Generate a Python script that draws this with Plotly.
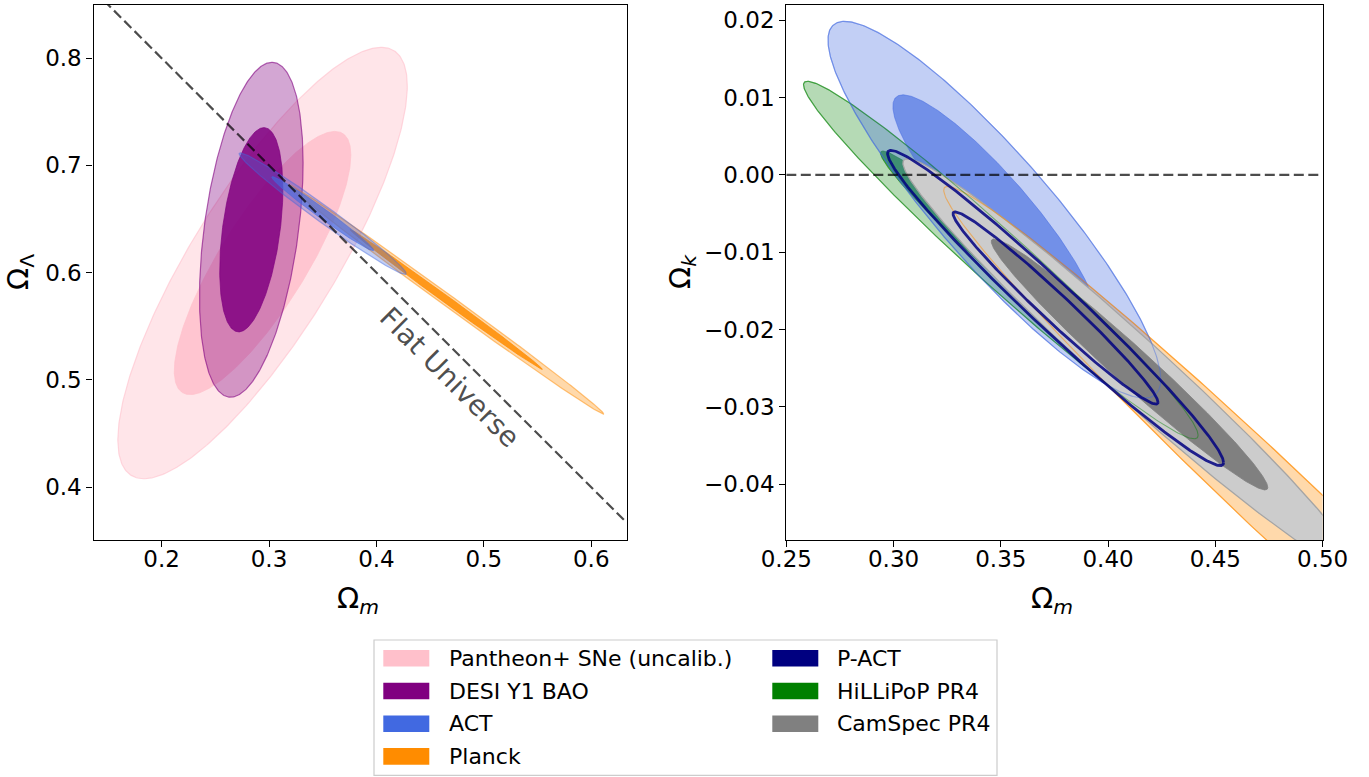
import numpy as np
import plotly.graph_objects as go

# ---------------- data (Gaussian contour parameters) -------------
# Left panel: Omega_m vs Omega_Lambda
left_names = ["Pantheon+ SNe (uncalib.)", "DESI Y1 BAO", "Planck", "ACT"]
left_cx = [0.294, 0.2835, 0.465, 0.350]
left_cy = [0.609, 0.640, 0.575, 0.655]
left_sx = [0.0542, 0.0194, 0.059, 0.0313]
left_sy = [0.0809, 0.0628, 0.043, 0.0228]
left_rho = [0.82, 0.40, -0.998, -0.986]

# Right panel: Omega_m vs Omega_k
right_names = ["Planck", "HiLLiPoP PR4", "CamSpec PR4", "ACT", "P-ACT"]
right_cx = [0.480, 0.350, 0.410, 0.347, 0.3755]
right_cy = [-0.0425, -0.011, -0.0245, -0.0045, -0.0172]
right_sx = [0.063, 0.037, 0.0425, 0.0312, 0.0315]
right_sy = [0.0165, 0.0093, 0.0107, 0.0098, 0.0082]
right_rho = [-0.988, -0.98, -0.98, -0.90, -0.98]

# contour levels (68% and 95% for 2 parameters)
levels = [np.sqrt(2.30), np.sqrt(6.18)]

# axes
left_xrange = [0.1366, 0.6333]
left_yrange = [0.3505, 0.8499]
right_xrange = [0.25, 0.50]
right_yrange = [-0.04724, 0.02203]
left_xticks = [0.2, 0.3, 0.4, 0.5, 0.6]
left_yticks = [0.4, 0.5, 0.6, 0.7, 0.8]
right_xticks = [0.25, 0.30, 0.35, 0.40, 0.45, 0.50]
right_yticks = [-0.04, -0.03, -0.02, -0.01, 0.00, 0.01, 0.02]

legend_col1 = ["Pantheon+ SNe (uncalib.)", "DESI Y1 BAO", "ACT", "Planck"]
legend_col2 = ["P-ACT", "HiLLiPoP PR4", "CamSpec PR4"]

# ---------------- styles -------------
FONT = "DejaVu Sans"
W, H = 1369, 777

rgb = {
    "Pantheon+ SNe (uncalib.)": (255, 192, 203),
    "DESI Y1 BAO": (128, 0, 128),
    "ACT": (65, 105, 225),
    "Planck": (255, 140, 0),
    "P-ACT": (0, 0, 128),
    "HiLLiPoP PR4": (0, 128, 0),
    "CamSpec PR4": (128, 128, 128),
}
# (outer fill alpha, inner fill alpha, edge alpha)
alphas = {
    "Pantheon+ SNe (uncalib.)": (0.42, 0.85, 0.6),
    "DESI Y1 BAO": (0.35, 0.85, 0.6),
    "ACT": (0.32, 0.62, 0.45),
    "Planck": (0.33, 0.85, 0.5),
    "HiLLiPoP PR4": (0.29, 0.65, 0.45),
}


def rgba(c, a):
    return f"rgba({c[0]},{c[1]},{c[2]},{a})"


def ellipse(cx, cy, sx, sy, rho, k, n=400):
    t = np.linspace(0, 2 * np.pi, n)
    x = cx + k * sx * np.cos(t)
    y = cy + k * sy * (rho * np.cos(t) + np.sqrt(1 - rho ** 2) * np.sin(t))
    return x, y


fig = go.Figure()


def add_fill(x, y, fill, line, lw, xa, ya):
    fig.add_trace(go.Scatter(x=x, y=y, mode="lines", fill="toself", fillcolor=fill,
                             line=dict(color=line, width=lw),
                             xaxis=xa, yaxis=ya, showlegend=False, hoverinfo="skip"))


def add_line(x, y, color, lw, xa, ya, dash=None):
    fig.add_trace(go.Scatter(x=x, y=y, mode="lines", line=dict(color=color, width=lw, dash=dash),
                             xaxis=xa, yaxis=ya, showlegend=False, hoverinfo="skip"))


def add_filled(name, cx, cy, sx, sy, rho, xa, ya, inner=True):
    c = rgb[name]
    ao, ai, ae = alphas[name]
    xo, yo = ellipse(cx, cy, sx, sy, rho, levels[1])
    add_fill(xo, yo, rgba(c, ao), rgba(c, ae), 1.2, xa, ya)
    if inner:
        xi, yi = ellipse(cx, cy, sx, sy, rho, levels[0])
        add_fill(xi, yi, rgba(c, ai), rgba(c, ai), 0.8, xa, ya)


# ---- left panel
for i, nm in enumerate(left_names):
    add_filled(nm, left_cx[i], left_cy[i], left_sx[i], left_sy[i], left_rho[i], "x", "y")

fx = np.array(left_xrange)
add_line(fx, 1 - fx, "rgba(0,0,0,0.7)", 2.2, "x", "y", dash="10px,4.5px")

# ---- right panel
def rp(nm):
    i = right_names.index(nm)
    return right_cx[i], right_cy[i], right_sx[i], right_sy[i], right_rho[i]

add_filled("Planck", *rp("Planck"), "x2", "y2", inner=False)
add_filled("HiLLiPoP PR4", *rp("HiLLiPoP PR4"), "x2", "y2")
add_filled("ACT", *rp("ACT"), "x2", "y2")

# CamSpec (opaque grey, drawn above the other fills)
cx, cy, sx, sy, rho = rp("CamSpec PR4")
xo, yo = ellipse(cx, cy, sx, sy, rho, levels[1])
add_fill(xo, yo, "rgb(204,204,204)", "rgb(165,165,165)", 1.3, "x2", "y2")
xi, yi = ellipse(cx, cy, sx, sy, rho, levels[0])
add_fill(xi, yi, "rgb(128,128,128)", "rgb(128,128,128)", 0.8, "x2", "y2")

# outlines visible on top of grey
for nm, a in [("Planck", 0.5), ("HiLLiPoP PR4", 0.45), ("ACT", 0.45)]:
    cx, cy, sx, sy, rho = rp(nm)
    xo, yo = ellipse(cx, cy, sx, sy, rho, levels[1])
    add_line(xo, yo, rgba(rgb[nm], a), 1.1, "x2", "y2")

# P-ACT outlines
cx, cy, sx, sy, rho = rp("P-ACT")
for k in levels:
    xe, ye = ellipse(cx, cy, sx, sy, rho, k)
    add_line(xe, ye, rgba(rgb["P-ACT"], 0.85), 2.8, "x2", "y2")

add_line(right_xrange, [0, 0], "rgba(0,0,0,0.7)", 2.2, "x2", "y2", dash="10px,4.5px")

# ---------------- layout -------------
def fmt(v, nd):
    s = f"{abs(v):.{nd}f}"
    return ("\u2212" + s) if v < 0 else s

axis_common = dict(showline=True, linecolor="black", linewidth=1.3, mirror=True,
                   ticks="outside", ticklen=6, tickwidth=1.3, tickcolor="black",
                   showgrid=False, zeroline=False, automargin=False,
                   tickfont=dict(family=FONT, size=23, color="black"))

ydom = [1 - 540.3 / H, 1 - 4.6 / H]
fig.update_layout(
    template="none",
    width=W, height=H, autosize=False,
    margin=dict(l=0, r=0, t=0, b=0, pad=0),
    paper_bgcolor="white", plot_bgcolor="white",
    font=dict(family=FONT, color="black"),
    xaxis=dict(domain=[93.5 / W, 627 / W], range=left_xrange, anchor="y", ticklabelstandoff=-8,
               tickvals=left_xticks, ticktext=[fmt(v, 1) for v in left_xticks], **axis_common),
    yaxis=dict(domain=ydom, range=left_yrange, anchor="x",
               tickvals=left_yticks, ticktext=[fmt(v, 1) for v in left_yticks], **axis_common),
    xaxis2=dict(domain=[786.3 / W, 1322.6 / W], range=right_xrange, anchor="y2", ticklabelstandoff=-8,
                tickvals=right_xticks, ticktext=[fmt(v, 2) for v in right_xticks], **axis_common),
    yaxis2=dict(domain=ydom, range=right_yrange, anchor="x2",
                tickvals=right_yticks, ticktext=[fmt(v, 2) for v in right_yticks], **axis_common),
)

ann = []
TS = 29
ann.append(dict(text="\u03a9<sub><i>m</i></sub>", x=358 / W, y=1 - 600 / H, xref="paper", yref="paper",
                showarrow=False, xanchor="center", yanchor="middle", font=dict(family=FONT, size=TS)))
ann.append(dict(text="\u03a9<sub><i>m</i></sub>", x=1052 / W, y=1 - 600 / H, xref="paper", yref="paper",
                showarrow=False, xanchor="center", yanchor="middle", font=dict(family=FONT, size=TS)))
ann.append(dict(text="\u03a9<sub>\u039b</sub>", x=20 / W, y=1 - 272 / H, xref="paper", yref="paper",
                showarrow=False, xanchor="center", yanchor="middle", textangle=-90, font=dict(family=FONT, size=TS)))
ann.append(dict(text="\u03a9<sub><i>k</i></sub>", x=682 / W, y=1 - 272 / H, xref="paper", yref="paper",
                showarrow=False, xanchor="center", yanchor="middle", textangle=-90, font=dict(family=FONT, size=TS)))
# Flat Universe label
ann.append(dict(text="Flat Universe", x=0.4685, y=0.5027, xref="x", yref="y", showarrow=False,
                xanchor="center", yanchor="middle", textangle=45,
                font=dict(family=FONT, size=28, color="rgba(0,0,0,0.7)")))

shapes = []
# legend box
shapes.append(dict(type="rect", xref="paper", yref="paper", x0=374 / W, x1=997 / W,
                   y0=1 - 775.3 / H, y1=1 - 640 / H, line=dict(color="rgb(204,204,204)", width=1.2),
                   fillcolor="rgba(255,255,255,0.8)", layer="above"))
row_y = [658.3, 691.0, 723.7, 756.4]
LS = 22
for j, nm in enumerate(legend_col1):
    yc = row_y[j]
    shapes.append(dict(type="rect", xref="paper", yref="paper", x0=383.3 / W, x1=429.3 / W,
                       y0=1 - (yc + 8.3) / H, y1=1 - (yc - 8.3) / H, line=dict(width=0),
                       fillcolor=rgba(rgb[nm], 1), layer="above"))
    ann.append(dict(text=nm, x=447 / W, y=1 - yc / H, xref="paper", yref="paper", showarrow=False,
                    xanchor="left", yanchor="middle", font=dict(family=FONT, size=LS, color="black")))
for j, nm in enumerate(legend_col2):
    yc = row_y[j]
    shapes.append(dict(type="rect", xref="paper", yref="paper", x0=772.3 / W, x1=818.3 / W,
                       y0=1 - (yc + 8.3) / H, y1=1 - (yc - 8.3) / H, line=dict(width=0),
                       fillcolor=rgba(rgb[nm], 1), layer="above"))
    ann.append(dict(text=nm, x=835 / W, y=1 - yc / H, xref="paper", yref="paper", showarrow=False,
                    xanchor="left", yanchor="middle", font=dict(family=FONT, size=LS, color="black")))

fig.update_layout(annotations=ann, shapes=shapes)
fig.write_html("out.html", config={"displayModeBar": False},
               post_script="document.body.style.margin='0';document.body.style.overflow='hidden';")
